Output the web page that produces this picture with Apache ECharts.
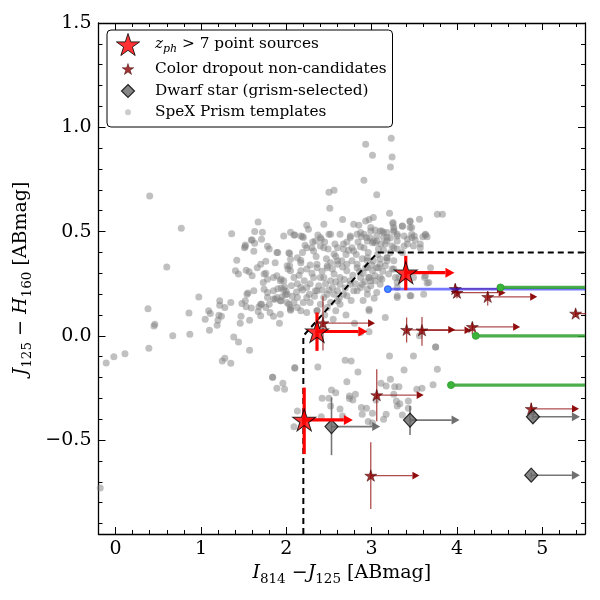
<!DOCTYPE html>
<html><head><meta charset="utf-8">
<script src="https://cdn.jsdelivr.net/npm/echarts@6.0.0/dist/echarts.min.js"></script>
<style>html,body{margin:0;padding:0;background:#fff}#c{width:600px;height:600px}</style>
</head><body><div id="c"></div>
<script>
// ---------- axis ranges & ticks ----------
const xMin = -0.2, xMax = 5.5, yMin = -0.95, yMax = 1.5;
const xMajorTicks = [0, 1, 2, 3, 4, 5];
const xMinorTicks = [0.2,0.4,0.6,0.8,1.2,1.4,1.6,1.8,2.2,2.4,2.6,2.8,3.2,3.4,3.6,3.8,4.2,4.4,4.6,4.8,5.2,5.4];
const yMajorTicks = [-0.5, 0, 0.5, 1.0, 1.5];
const yMinorTicks = [-0.9,-0.8,-0.7,-0.6,-0.4,-0.3,-0.2,-0.1,0.1,0.2,0.3,0.4,0.6,0.7,0.8,0.9,1.1,1.2,1.3,1.4];

// ---------- SpeX Prism templates ----------
const spexPoints = [
[0.40,0.67],[0.77,0.516],[0.60,0.33],[0.975,0.186],[0.38,0.13],[0.46,0.056],[0.45,0.047],[0.67,0.0],[0.87,0.008],[0.86,0.109],[0.39,-0.059],[0.11,-0.086],[-0.02,-0.10],[-0.11,-0.13],[-0.18,-0.73],
[1.36,0.49],[1.67,0.546],[1.63,0.50],[1.72,0.497],[1.71,0.463],[1.59,0.459],[1.63,0.444],[1.52,0.436],[1.51,0.422],[1.62,0.406],[1.78,0.43],[2.05,0.497],[2.09,0.484],[1.90,0.40],[2.03,0.398],[2.05,0.367],[2.02,0.32],[2.04,0.336],[1.42,0.363],[1.70,0.343],[1.76,0.358],[1.405,0.312],[1.44,0.296],[1.53,0.315],[1.565,0.307],[1.60,0.288],[1.76,0.30],[1.78,0.272],[1.73,0.256],[1.89,0.288],[1.94,0.272],[1.74,0.224],[1.78,0.208],[1.90,0.226],[1.94,0.229],[1.98,0.234],[2.0,0.213],[1.55,0.206],[1.52,0.168],[1.48,0.155],[1.53,0.139],[1.59,0.133],[1.22,0.168],[1.28,0.136],[1.22,0.147],[1.35,0.16],[1.09,0.12],[1.11,0.107],[1.05,0.08],[1.10,0.027],[1.21,0.099],[1.24,0.094],[1.20,0.075],[1.19,0.051],[1.47,0.094],[1.46,0.061],[1.57,0.075],[1.67,0.117],[1.71,0.152],[1.80,0.152],[1.76,0.136],[1.68,0.139],[1.85,0.094],[1.92,0.061],[1.85,0.177],[1.87,0.176],[1.94,0.168],[2.03,0.152],[2.05,0.123],[1.95,0.187],[1.99,0.197],[1.385,-0.006],[1.44,-0.03],[1.57,-0.069],[1.25,-0.12],[1.28,-0.107],[1.35,-0.131],[1.84,-0.198],[1.84,-0.198],[1.96,-0.227],[1.89,-0.251],[1.98,-0.256],[2.10,-0.155],
[3.23,0.948],[2.93,0.919],[3.01,0.866],[3.24,0.858],[3.22,0.809],[2.91,0.746],[2.50,0.689],[2.56,0.698],[3.06,0.676],[2.51,0.612],[3.21,0.588],[3.77,0.583],[3.83,0.583],[2.66,0.558],[2.93,0.551],[2.97,0.558],[2.85,0.53],[3.25,0.543],[3.56,0.559],[3.45,0.551],[3.36,0.526],[3.47,0.519],[2.24,0.53],[2.26,0.511],[2.10,0.483],[2.19,0.476],[3.63,0.483],[3.50,0.479],[1.60,0.46],[1.52,0.428],[1.80,0.416],[1.89,0.40],[2.04,0.395],[2.17,0.363],[2.37,0.484],[2.41,0.463],[2.50,0.487],[2.34,0.455],[2.75,0.479],[2.83,0.487],[2.88,0.475],[2.94,0.471],[3.06,0.479],[3.12,0.503],[3.18,0.495],[3.26,0.507],[3.30,0.487],[3.38,0.479],[3.47,0.471],[3.60,0.475],[2.22,0.435],[2.30,0.423],[2.40,0.431],[2.49,0.416],[2.60,0.423],[2.67,0.416],[2.77,0.423],[2.87,0.427],[3.01,0.447],[3.06,0.455],[3.18,0.455],[3.26,0.423],[3.42,0.44],[3.49,0.431],[3.57,0.423],[3.69,0.327],[3.62,0.28],[3.65,0.253],[3.46,0.192],[3.30,0.256],[3.32,0.28],[3.49,0.28],[1.87,0.351],[2.01,0.336],[2.17,0.351],[2.24,0.32],[2.36,0.327],[2.48,0.336],[2.60,0.36],[2.71,0.343],[2.83,0.327],[2.95,0.327],[3.10,0.343],[3.18,0.36],[3.26,0.32],[1.54,0.2],[1.62,0.216],[1.70,0.152],[1.78,0.184],[1.85,0.216],[1.93,0.168],[2.01,0.2],[2.09,0.16],[2.17,0.232],[2.24,0.184],[2.34,0.216],[2.44,0.184],[2.54,0.232],[2.63,0.248],[2.75,0.264],[2.87,0.232],[2.97,0.28],[3.04,0.264],[2.56,0.296],[2.44,0.28],[2.32,0.28],[2.21,0.264],[2.09,0.28],[1.97,0.264],[1.85,0.28],[1.74,0.296],[2.67,0.2],[2.79,0.216],[2.60,0.168],[2.48,0.136],[2.36,0.12],[2.24,0.112],[2.13,0.136],[2.05,0.128],[1.93,0.104],[1.81,0.112],[1.70,0.096],
[2.97,0.02],[3.56,0.0],[3.75,-0.053],[3.75,-0.053],[2.37,-0.149],[2.69,-0.117],[2.76,-0.121],[2.84,-0.173],[3.21,-0.097],[3.49,-0.097],[3.38,-0.164],[3.77,-0.16],[2.71,-0.22],[3.11,-0.227],[3.17,-0.24],[3.22,-0.208],[3.27,-0.244],[3.32,-0.244],[3.26,-0.28],[3.59,-0.251],[3.53,-0.256],[3.72,-0.235],[2.53,-0.26],[2.58,-0.273],[2.42,-0.299],[2.50,-0.299],[2.74,-0.288],[2.81,-0.28],[2.78,-0.307],[2.74,-0.30],[2.52,-0.336],[2.63,-0.351],[2.88,-0.344],[2.94,-0.347],[3.05,-0.308],[3.29,-0.312],[3.33,-0.325],[3.43,-0.312],[3.30,-0.336],[2.89,-0.376],[3.01,-0.371],[3.17,-0.376],[3.36,-0.38],[2.41,-0.388],[2.66,-0.384],[2.96,-0.411],[3.14,-0.40],[3.43,-0.347],[3.01,-0.418],[2.10,-0.152],[2.09,-0.436],[2.13,-0.36],
[3.45,0.548],[3.36,0.527],[2.99,0.519],[2.91,0.487],[3.25,0.538],[3.26,0.50],[3.14,0.495],[3.04,0.507],[3.18,0.471],[3.30,0.479],[3.45,0.519],[3.47,0.487],[3.42,0.463],[3.51,0.459],[3.63,0.487],[3.65,0.475],[3.57,0.44],[3.38,0.431],[3.36,0.40],[3.30,0.416],[3.24,0.431],[3.16,0.44],[3.04,0.447],[2.95,0.455],[3.08,0.416],
[2.95,0.375],[3.02,0.36],[3.10,0.368],[3.18,0.375],[3.26,0.36],[2.93,0.327],[3.01,0.312],[3.08,0.327],[3.16,0.336],[3.24,0.32],[2.97,0.28],[3.04,0.288],[3.12,0.272],[3.20,0.296],[3.28,0.28],[2.89,0.248],[2.99,0.24],[3.10,0.248],[3.30,0.232],[3.06,0.208],[2.95,0.20],[3.67,0.256],[3.63,0.288],[3.45,0.192],[3.30,0.184],[2.97,0.128],[3.61,0.20],[3.30,0.192],
[2.32,0.407],[2.44,0.423],[2.56,0.392],[2.67,0.44],[2.79,0.407],[2.91,0.423],[3.02,0.455],[3.14,0.471],[2.36,0.343],[2.48,0.327],[2.60,0.343],[2.71,0.312],[2.83,0.343],[2.95,0.36],[3.06,0.327],[3.18,0.375],[2.40,0.28],[2.52,0.264],[2.63,0.28],[2.75,0.248],[2.87,0.28],[2.99,0.264],[3.10,0.28],[2.24,0.232],[2.36,0.216],[2.48,0.2],[2.60,0.216],[2.71,0.192],[2.83,0.216],[2.95,0.224],[2.13,0.184],[2.28,0.16],[2.40,0.152],[2.52,0.16],[2.63,0.152],[2.01,0.16],[1.89,0.184],[2.05,0.136],[2.17,0.12],[2.36,0.12],[1.93,0.264],[2.05,0.312],[2.17,0.312],[2.13,0.375],[2.24,0.423],[2.20,0.471],[2.40,0.471],[2.52,0.487],[2.63,0.487],[2.75,0.471],[2.87,0.495],[2.99,0.503],[3.10,0.503],[3.26,0.519],[3.30,0.455],[2.44,0.535],[2.79,0.535],[3.02,0.567],[2.97,0.12],[3.16,0.088],[2.87,0.016],[2.17,0.479],[1.97,0.479],[1.66,0.327],[2.70,0.10],[2.80,0.06],[2.55,0.08],
[2.28,0.25],[2.38,0.24],[2.46,0.25],[2.58,0.26],[2.68,0.27],[2.78,0.29],[2.90,0.30],[2.30,0.30],[2.42,0.31],[2.54,0.32],[2.66,0.33],[2.77,0.36],[2.89,0.37],[2.35,0.38],[2.47,0.37],[2.58,0.38],[2.70,0.39],[2.82,0.39],[2.96,0.40],[3.07,0.39],[3.14,0.41],[3.22,0.40],[2.27,0.20],[2.42,0.22],[2.56,0.20],[2.69,0.23],[2.81,0.25],[2.92,0.26],[2.19,0.22],[2.13,0.25],[2.06,0.24],[2.15,0.29],[2.28,0.34],[2.19,0.40],[2.31,0.45],[2.45,0.45],[2.57,0.44],[2.71,0.45],[2.84,0.45],[2.98,0.47],[3.11,0.44],[3.22,0.47],[2.65,0.36],[2.52,0.35],[2.73,0.41],[2.86,0.31],[3.00,0.34],[3.13,0.31],[2.50,0.22],[2.62,0.18],[2.76,0.17],[2.33,0.19],[2.20,0.16],[2.45,0.10],[2.58,0.12],[2.90,0.17],[3.03,0.18],[2.12,0.21],[1.97,0.22],[2.07,0.19]
];

// ---------- selection box (dashed) ----------
const selBoxX = [2.2, 2.2, 3.07, 5.5];
const selBoxY = [-0.95, 0.0, 0.4, 0.4];

// ---------- coloured tracks ----------
const trackStartX = [3.19, 4.51, 4.22, 3.93];
const trackY = [0.224, 0.232, 0.0, -0.236];
const trackLine = ['rgba(30,30,255,0.6)', 'rgba(44,160,44,0.85)', 'rgba(44,160,44,0.85)', 'rgba(44,160,44,0.85)'];
const trackDot = ['#3f8cff', '#3cb43c', '#3cb43c', '#3cb43c'];

// ---------- colour dropout non-candidates ----------
const dropX   = [2.43, 3.98, 4.00, 4.36, 5.39, 3.41, 3.59, 4.18, 3.06, 4.87, 2.99];
const dropY   = [0.061, 0.225, 0.207, 0.187, 0.107, 0.029, 0.027, 0.043, -0.284, -0.35, -0.67];
const dropYLo = [-0.07, 0.205, 0.18, 0.145, 0.09, -0.032, -0.048, 0.007, -0.41, -0.38, -0.83];
const dropYHi = [0.19, 0.25, 0.235, 0.213, 0.125, 0.088, 0.091, 0.064, -0.16, -0.32, -0.51];
const dropArrowX = [3.04, 4.55, 4.57, 4.94, 5.95, 3.98, 4.17, 4.74, 3.61, 5.43, 3.56];

// ---------- dwarf stars ----------
const dwX = [2.53, 3.45, 4.89, 4.87];
const dwY = [-0.435, -0.404, -0.388, -0.668];
const dwYLo = [-0.572, -0.475, -0.40, -0.68];
const dwYHi = [-0.296, -0.336, -0.376, -0.656];
const dwArrowX = [3.10, 4.03, 5.44, 5.44];

// ---------- z_ph > 7 point sources ----------
const zX = [3.40, 2.36, 2.21];
const zY = [0.303, 0.021, -0.403];
const zYLo = [0.219, -0.072, -0.567];
const zYHi = [0.384, 0.112, -0.248];
const zArrowX = [3.97, 2.95, 2.78];

const STAR = 'path://M0,-100L22.45,-30.9L95.11,-30.9L36.33,11.8L58.78,80.9L0,38.2L-58.78,80.9L-36.33,11.8L-95.11,-30.9L-22.45,-30.9Z';
const DIAMOND = 'path://M0,-100L100,0L0,100L-100,0Z';
const FONT = "'DejaVu Serif', serif";

function errRender(lineColor, headColor, lw, headL, headW) {
  return function (params, api) {
    const x = api.value(0), y = api.value(1), lo = api.value(2), hi = api.value(3), ax = api.value(4);
    const p = api.coord([x, y]);
    const pl = api.coord([x, lo]);
    const ph = api.coord([x, hi]);
    const pa = api.coord([ax, y]);
    return {
      type: 'group',
      children: [
        { type: 'line', shape: { x1: pl[0], y1: pl[1], x2: ph[0], y2: ph[1] }, style: { stroke: lineColor, lineWidth: lw } },
        { type: 'line', shape: { x1: p[0], y1: p[1], x2: pa[0] - headL, y2: pa[1] }, style: { stroke: lineColor, lineWidth: lw } },
        { type: 'polygon', shape: { points: [[pa[0], pa[1]], [pa[0] - headL, pa[1] - headW], [pa[0] - headL, pa[1] + headW]] }, style: { fill: headColor } }
      ]
    };
  };
}
function zip5(a, b, c, d, e) { return a.map((v, i) => [v, b[i], c[i], d[i], e[i]]); }

const rich = {
  it: { fontFamily: FONT, fontStyle: 'italic', fontSize: 19, lineHeight: 27, verticalAlign: 'middle', color: '#000' },
  sub: { fontFamily: FONT, fontSize: 13.5, lineHeight: 13, verticalAlign: 'bottom', color: '#000' },
  n: { fontFamily: FONT, fontSize: 19, lineHeight: 27, verticalAlign: 'middle', color: '#000' }
};
const legRich = {
  it: { fontFamily: FONT, fontStyle: 'italic', fontSize: 15.3, lineHeight: 20, verticalAlign: 'middle', color: '#000' },
  sub: { fontFamily: FONT, fontStyle: 'italic', fontSize: 11, lineHeight: 11, verticalAlign: 'bottom', color: '#000' },
  n: { fontFamily: FONT, fontSize: 15.3, lineHeight: 20, verticalAlign: 'middle', color: '#000' }
};

const tickStyle = { color: '#000', width: 1 };
function mkAxis(range, position, showLine, ticks, len, extra) {
  return Object.assign({
    type: 'value', min: range[0], max: range[1], position: position,
    splitLine: { show: false },
    axisLine: { show: showLine, onZero: false, lineStyle: { color: '#000', width: 1.3 } },
    axisLabel: { show: false },
    axisTick: { show: true, inside: true, length: len, customValues: ticks, lineStyle: tickStyle }
  }, extra || {});
}
const xr = [xMin, xMax], yr = [yMin, yMax];
const yFmt = v => (Math.abs(v) < 1e-9 ? '0.0' : (v < 0 ? '\u2212' + Math.abs(v).toFixed(1) : v.toFixed(1)));

const xAxes = [
  mkAxis(xr, 'bottom', true, xMajorTicks, 7, {
    axisLabel: { show: true, customValues: xMajorTicks, fontFamily: FONT, fontSize: 19, color: '#000', margin: 6 },
    name: '{it|I}{sub|814}{n| \u2212}{it|J}{sub|125}{n| [ABmag]}',
    nameLocation: 'middle', nameGap: 24, nameTextStyle: { fontFamily: FONT, rich: rich }
  }),
  mkAxis(xr, 'bottom', false, xMinorTicks, 4),
  mkAxis(xr, 'top', true, xMajorTicks, 7),
  mkAxis(xr, 'top', false, xMinorTicks, 4)
];
const yAxes = [
  mkAxis(yr, 'left', true, yMajorTicks, 7, {
    axisLabel: { show: true, customValues: yMajorTicks, formatter: yFmt, fontFamily: FONT, fontSize: 19, color: '#000', margin: 7 },
    name: '{it|J}{sub|125}{n| \u2212 }{it|H}{sub|160}{n| [ABmag]}',
    nameLocation: 'middle', nameRotate: 90, nameGap: 54, nameTextStyle: { fontFamily: FONT, rich: rich }
  }),
  mkAxis(yr, 'left', false, yMinorTicks, 4),
  mkAxis(yr, 'right', true, yMajorTicks, 7),
  mkAxis(yr, 'right', false, yMinorTicks, 4)
];

const series = [];
series.push({ type: 'scatter', name: 'SpeX Prism templates', data: spexPoints, symbol: 'circle', symbolSize: 7,
  itemStyle: { color: 'rgba(128,128,128,0.62)' }, z: 1, silent: true });
series.push({ type: 'line', data: selBoxX.map((x, i) => [x, selBoxY[i]]), symbol: 'none', showSymbol: false,
  lineStyle: { color: '#000', width: 2, type: [6, 4] }, z: 2, silent: true });
series.push({ type: 'custom', data: zip5(dropX, dropY, dropYLo, dropYHi, dropArrowX), encode: { x: 0, y: 1 }, clip: true, z: 3,
  renderItem: errRender('rgba(139,0,0,0.7)', 'rgba(139,0,0,0.95)', 1.3, 7, 3.8), silent: true });
series.push({ type: 'scatter', name: 'Color dropout non-candidates', data: dropX.map((x, i) => [x, dropY[i]]), symbol: STAR, symbolSize: [12, 11.4],
  itemStyle: { color: '#8b0000', borderColor: '#3a0000', borderWidth: 0.6 }, z: 4, silent: true });
trackStartX.forEach((x0, i) => {
  series.push({ type: 'line', data: [{ value: [x0, trackY[i]], symbol: 'circle' }, { value: [xMax, trackY[i]], symbol: 'none' }],
    symbolSize: 7, showSymbol: true, lineStyle: { color: trackLine[i], width: i === 0 ? 2.6 : 3.2 },
    itemStyle: { color: trackDot[i], borderColor: trackLine[i], borderWidth: 1 }, z: 5, silent: true });
});
series.push({ type: 'custom', data: zip5(dwX, dwY, dwYLo, dwYHi, dwArrowX), encode: { x: 0, y: 1 }, clip: true, z: 6,
  renderItem: errRender('rgba(95,95,95,0.85)', 'rgba(95,95,95,0.9)', 1.6, 8, 4.5), silent: true });
series.push({ type: 'scatter', name: 'Dwarf star (grism-selected)', data: dwX.map((x, i) => [x, dwY[i]]), symbol: DIAMOND, symbolSize: [13, 14],
  itemStyle: { color: '#666666', borderColor: '#000', borderWidth: 1.2 }, z: 7, silent: true });
series.push({ type: 'custom', data: zip5(zX, zY, zYLo, zYHi, zArrowX), encode: { x: 0, y: 1 }, clip: true, z: 8,
  renderItem: errRender('#ff0000', '#ff0000', 3.2, 9, 5), silent: true });
series.push({ type: 'scatter', name: 'zph', data: zX.map((x, i) => [x, zY[i]]), symbol: STAR, symbolSize: [23, 22],
  itemStyle: { color: '#ff0000', borderColor: '#000', borderWidth: 1 }, z: 9, silent: true });

// legend: icon box 44 wide, icon centred at x=128, text starting at x=155
function leg(name, top, ih, iconW, itemStyle, fmt) {
  const o = { data: [name], left: 106 + (44 - iconW) / 2, top: top, itemWidth: 44, itemHeight: ih, padding: 0, selectedMode: false, z: 20,
    symbolKeepAspect: true, textStyle: { fontFamily: FONT, fontSize: 15.3, color: '#000', lineHeight: 20, rich: legRich },
    itemStyle: itemStyle };
  if (fmt) o.formatter = fmt;
  return o;
}

const option = {
  animation: false,
  backgroundColor: '#fff',
  textStyle: { fontFamily: FONT },
  grid: { left: 98.5, right: 15, top: 23, bottom: 66, containLabel: false, outerBoundsMode: 'none' },
  xAxis: xAxes,
  yAxis: yAxes,
  graphic: [{ type: 'rect', z: 10, shape: { x: 107, y: 30, width: 285.5, height: 97, r: 4 },
    style: { fill: '#fff', stroke: '#000', lineWidth: 1 } }],
  legend: [
    leg('zph', 33, 22, 24.1, { borderColor: '#000', borderWidth: 1 }, () => '{it|z}{sub|ph}{n| > 7 point sources}'),
    leg('Color dropout non-candidates', 59, 11, 12.2, { borderColor: '#3a0000', borderWidth: 0.6 }),
    leg('Dwarf star (grism-selected)', 81, 13, 14.2, { borderColor: '#000', borderWidth: 1.2 }),
    leg('SpeX Prism templates', 102.3, 6, 6, { borderWidth: 0, color: 'rgba(128,128,128,0.5)' })
  ],
  series: series
};
const chart = echarts.init(document.getElementById('c'));
chart.setOption(option);
</script></body></html>
